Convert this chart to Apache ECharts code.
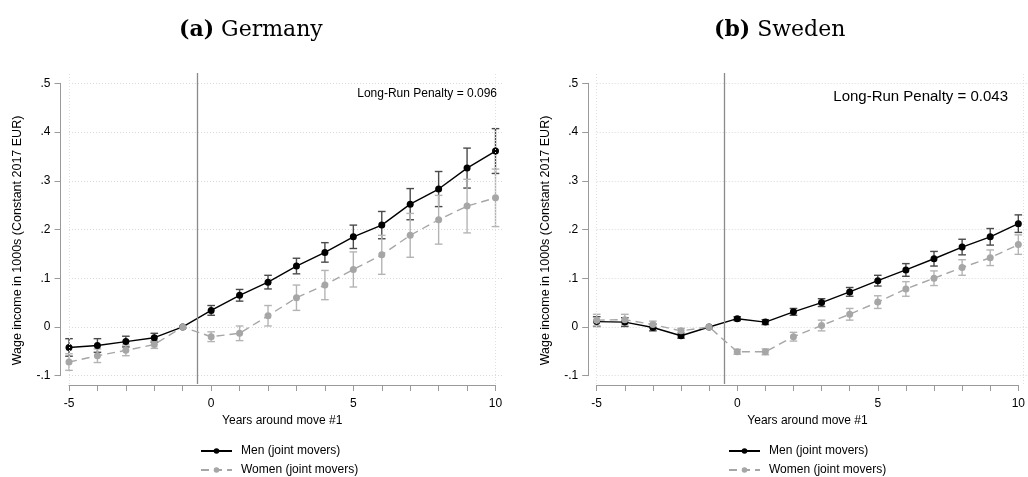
<!DOCTYPE html>
<html>
<head>
<meta charset="utf-8">
<script src="https://cdn.jsdelivr.net/npm/echarts@6/dist/echarts.min.js"></script>
<style>
  html, body { margin: 0; padding: 0; background: #fff; }
  #chart { width: 1028px; height: 477px; }
</style>
</head>
<body>
<div id="chart"></div>
<script>
// Event-study estimates: wage income relative to the year before the first move
const years = [-5, -4, -3, -2, -1, 0, 1, 2, 3, 4, 5, 6, 7, 8, 9, 10];

// Germany
const deMen      = [-0.042, -0.038, -0.030, -0.022, 0, 0.034, 0.065, 0.092, 0.125, 0.153, 0.185, 0.209, 0.252, 0.283, 0.326, 0.361];
const deMenCI    = [0.018, 0.014, 0.011, 0.009, 0, 0.010, 0.012, 0.014, 0.016, 0.020, 0.024, 0.028, 0.032, 0.036, 0.041, 0.046];
const deWomen    = [-0.072, -0.059, -0.048, -0.036, 0, -0.020, -0.013, 0.023, 0.060, 0.086, 0.118, 0.148, 0.188, 0.220, 0.248, 0.265];
const deWomenCI  = [0.017, 0.014, 0.011, 0.008, 0, 0.010, 0.015, 0.021, 0.026, 0.030, 0.036, 0.040, 0.045, 0.050, 0.055, 0.059];

// Sweden
const seMen      = [0.011, 0.010, -0.001, -0.018, 0, 0.017, 0.010, 0.031, 0.050, 0.072, 0.095, 0.117, 0.140, 0.164, 0.185, 0.212];
const seMenCI    = [0.010, 0.009, 0.007, 0.005, 0, 0.004, 0.005, 0.007, 0.008, 0.009, 0.011, 0.013, 0.015, 0.016, 0.017, 0.018];
const seWomen    = [0.014, 0.015, 0.005, -0.008, 0, -0.051, -0.051, -0.020, 0.003, 0.026, 0.051, 0.078, 0.100, 0.122, 0.142, 0.169];
const seWomenCI  = [0.012, 0.011, 0.007, 0.005, 0, 0.005, 0.006, 0.009, 0.011, 0.012, 0.013, 0.015, 0.015, 0.016, 0.016, 0.020];

const yTickLabels = ['-.1', '0', '.1', '.2', '.3', '.4', '.5'];
const xTickLabels = ['-5', '0', '5', '10'];
const panelTitles = [['(a)', 'Germany'], ['(b)', 'Sweden']];
const penaltyTexts = ['Long-Run Penalty = 0.096', 'Long-Run Penalty = 0.043'];
const seriesNames = ['Men (joint movers)', 'Women (joint movers)'];
const moveLineX = -0.5;

const FONT = '"Liberation Sans", Arial, Helvetica, sans-serif';
const SERIF = '"DejaVu Serif", "Liberation Serif", serif';
const AXIS_GREY = '#9a9a9a';

const panels = [
  { left: 69,    men: deMen, menCI: deMenCI, women: deWomen, womenCI: deWomenCI },
  { left: 596.7, men: seMen, menCI: seMenCI, women: seWomen, womenCI: seWomenCI }
];
const plotTop = 83.3, plotH = 292.4, plotW = 426.5, gridExtra = 8;
const frameTop = 73, frameH = 311;

function yLabel(v) {
  const i = Math.round((v + 0.1) / 0.1);
  return yTickLabels[i] !== undefined ? yTickLabels[i] : '';
}
function xLabel(v) {
  const s = String(v);
  return xTickLabels.indexOf(s) >= 0 ? s : '';
}

function errorBars(vals, ci) {
  return years.map((x, i) => [x, vals[i] - ci[i], vals[i] + ci[i]]).filter((d, i) => ci[i] > 0);
}

function barRenderer(color) {
  return function (params, api) {
    const x = api.value(0);
    const lo = api.coord([x, api.value(1)]);
    const hi = api.coord([x, api.value(2)]);
    const cap = 3.8;
    const style = { stroke: color, lineWidth: 1.4 };
    return {
      type: 'group',
      children: [
        { type: 'line', shape: { x1: lo[0], y1: lo[1], x2: hi[0], y2: hi[1] }, style },
        { type: 'line', shape: { x1: lo[0] - cap, y1: lo[1], x2: lo[0] + cap, y2: lo[1] }, style },
        { type: 'line', shape: { x1: hi[0] - cap, y1: hi[1], x2: hi[0] + cap, y2: hi[1] }, style }
      ]
    };
  };
}

const grid = [], xAxis = [], yAxis = [], series = [], title = [], legend = [];

panels.forEach((p, k) => {
  const g = k * 3;      // main plot grid
  const h = g + 1;      // horizontal guide lines (a little wider than the data area)
  const v = g + 2;      // vertical reference lines (a little taller than the data area)
  grid.push({ left: p.left, top: plotTop, width: plotW, height: plotH });
  grid.push({ left: p.left, top: plotTop, width: plotW + gridExtra, height: plotH });
  grid.push({ left: p.left, top: frameTop, width: plotW, height: frameH });

  xAxis.push({
    type: 'value', gridIndex: g, min: -5, max: 10, interval: 1, offset: 9.3,
    name: 'Years around move #1', nameLocation: 'middle', nameGap: 29,
    nameTextStyle: { fontFamily: FONT, fontSize: 12, color: '#000' },
    axisLine: { onZero: false, lineStyle: { color: AXIS_GREY, width: 1 } },
    axisTick: { length: 6, lineStyle: { color: AXIS_GREY } },
    axisLabel: { formatter: xLabel, margin: 13, fontFamily: FONT, fontSize: 12, color: '#000', showMinLabel: true, showMaxLabel: true },
    splitLine: { show: false }
  });
  xAxis.push({ type: 'value', gridIndex: h, min: 0, max: 1, show: false });
  xAxis.push({ type: 'value', gridIndex: v, min: -5, max: 10, show: false });

  yAxis.push({
    type: 'value', gridIndex: g, min: -0.1, max: 0.5, interval: 0.1, offset: 8.5,
    name: 'Wage income in 1000s (Constant 2017 EUR)', nameLocation: 'middle', nameGap: 36,
    nameTextStyle: { fontFamily: FONT, fontSize: 12.5, color: '#000', padding: [0, 0, 0, -22] },
    axisLine: { show: true, onZero: false, lineStyle: { color: AXIS_GREY, width: 1 } },
    axisTick: { show: true, length: 6, lineStyle: { color: AXIS_GREY } },
    axisLabel: { formatter: yLabel, margin: 10, fontFamily: FONT, fontSize: 12, color: '#000' },
    splitLine: { show: false }
  });
  yAxis.push({
    type: 'value', gridIndex: h, min: -0.1, max: 0.5, interval: 0.1,
    axisLine: { show: false }, axisTick: { show: false }, axisLabel: { show: false },
    splitLine: { show: true, lineStyle: { color: '#d9d9d9', type: [1, 2], width: 1 } }
  });
  yAxis.push({ type: 'value', gridIndex: v, min: 0, max: 1, show: false });

  // reference lines: move year and the dotted frame edges
  series.push({
    type: 'line', name: 'frame', xAxisIndex: v, yAxisIndex: v, data: [], silent: true, z: 1,
    markLine: {
      silent: true, symbol: 'none', label: { show: false }, animation: false,
      data: [
        { xAxis: -5, lineStyle: { color: '#e0e0e0', width: 1, type: [1, 2] } },
        { xAxis: 10, lineStyle: { color: '#e0e0e0', width: 1, type: [1, 2] } },
        { xAxis: moveLineX, lineStyle: { color: '#8a8a8a', width: 1.3, type: 'solid' } }
      ]
    }
  });

  // confidence intervals
  series.push({
    type: 'custom', name: seriesNames[0] + ' CI', xAxisIndex: g, yAxisIndex: g,
    data: errorBars(p.men, p.menCI), renderItem: barRenderer('#4a4a4a'), z: 2, silent: true
  });
  series.push({
    type: 'custom', name: seriesNames[1] + ' CI', xAxisIndex: g, yAxisIndex: g,
    data: errorBars(p.women, p.womenCI), renderItem: barRenderer('#b4b4b4'), z: 3, silent: true
  });

  // point estimates
  series.push({
    type: 'line', name: seriesNames[0], xAxisIndex: g, yAxisIndex: g,
    data: years.map((x, i) => [x, p.men[i]]),
    symbol: 'circle', symbolSize: 7, z: 4, clip: false,
    lineStyle: { color: '#000', width: 1.4 },
    itemStyle: { color: '#000' }
  });
  series.push({
    type: 'line', name: seriesNames[1], xAxisIndex: g, yAxisIndex: g,
    data: years.map((x, i) => [x, p.women[i]]),
    symbol: 'circle', symbolSize: 7, z: 5, clip: false,
    lineStyle: { color: '#a6a6a6', width: 1.4, type: [8, 5] },
    itemStyle: { color: '#a6a6a6' }
  });

  title.push({
    text: '{b|' + panelTitles[k][0] + '} ' + panelTitles[k][1],
    left: k === 0 ? 179 : 714, top: 19, padding: 0,
    textStyle: {
      fontFamily: SERIF, fontSize: 22, fontWeight: 'normal', color: '#000',
      rich: { b: { fontFamily: SERIF, fontSize: 22, fontWeight: 'bold', color: '#000' } }
    }
  });
  title.push({
    text: penaltyTexts[k],
    right: k === 0 ? 1028 - 497 : 1028 - 1008,
    top: k === 0 ? 88 : 89, padding: 0,
    textStyle: { fontFamily: FONT, fontSize: k === 0 ? 12 : 15, fontWeight: 'normal', color: '#000' }
  });

  legend.push({
    orient: 'vertical', left: k === 0 ? 200 : 728, top: 445, height: 44, padding: 0,
    itemWidth: 31, itemHeight: 7, itemGap: 7,
    data: seriesNames,
    textStyle: { fontFamily: FONT, fontSize: 12, color: '#000', padding: [0, 0, 0, 4] },
    selectedMode: false
  });
});

const chart = echarts.init(document.getElementById('chart'), null, { renderer: 'canvas' });
chart.setOption({
  backgroundColor: '#fff',
  animation: false,
  title, legend, grid, xAxis, yAxis, series
});
</script>
</body>
</html>
